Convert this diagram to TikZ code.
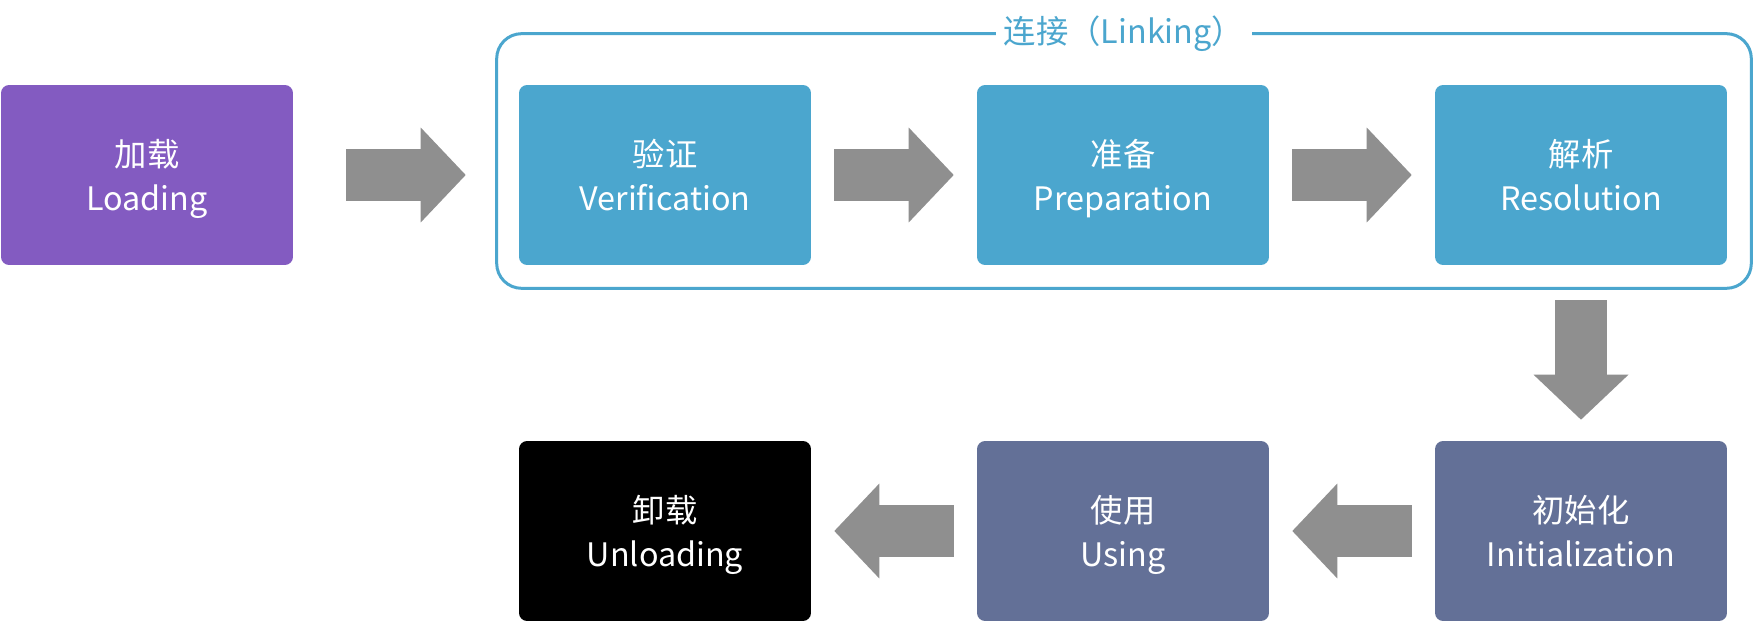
\documentclass[tikz,border=0pt]{standalone}
\usepackage{fontspec}
\setmainfont{Noto Sans CJK SC}
\usetikzlibrary{arrows.meta,calc}

\definecolor{loadpurple}{HTML}{835BC1}
\definecolor{linkblue}{HTML}{4BA6CE}
\definecolor{runslate}{HTML}{637097}
\definecolor{arrowgray}{HTML}{8F8F8F}

\newcommand{\topstrut}{\rule{0pt}{23pt}}

\tikzset{
	stage/.style={rectangle, rounded corners=0.16cm, minimum width=5.84cm, minimum height=3.6cm,
		text=white, align=center, font=\fontsize{18.4}{25.4}\selectfont},
	fat arrow/.style={draw=arrowgray, line width=1.04cm,
		-{Triangle[length=0.9cm 0 0, width=1.9cm 0 0, line width=0pt 0 0]}},
}

\begin{document}
\begin{tikzpicture}[x=0.02cm, y=0.02cm]
	\useasboundingbox (0,0) rectangle (1754,622);
	
	\node [stage, fill=loadpurple] (loading) at (147,447) {\topstrut 加载\\\strut Loading};
	
	\foreach \n/\zh/\en [count=\i from 0] in {verify/验证/Verification, prepare/准备/Preparation, resolve/解析/Resolution}
	\node [stage, fill=linkblue] (\n) at (665+\i*458,447) {\topstrut\zh\\\strut\en};
	
	\foreach \n/\zh/\en/\c [count=\i from 0] in {unload/卸载/Unloading/black, using/使用/Using/runslate, init/初始化/Initialization/runslate}
	\node [stage, fill=\c] (\n) at (665+\i*458,91) {\topstrut\zh\\\strut\en};
	
	\draw [linkblue, line width=0.06cm, rounded corners=0.5cm]
	($(verify.north west)+(-22,51)$) rectangle ($(resolve.south east)+(24,-23)$);
	
	\node [fill=white, text=linkblue, inner xsep=0.16cm, font=\fontsize{18.4}{25.4}\selectfont] (linking) at (1124,588) {连接（Linking）};
	
	\draw [fat arrow, shorten <=1.06cm, shorten >=1.06cm] (loading) -- (verify);
	
	\foreach \a/\b in {verify/prepare, prepare/resolve, init/using, using/unload}
	\draw [fat arrow, shorten <=0.46cm, shorten >=0.46cm] (\a) -- (\b);
	
	\draw [fat arrow, shorten <=0.7cm, shorten >=0.42cm] (resolve) -- (init);
\end{tikzpicture}
\end{document}
